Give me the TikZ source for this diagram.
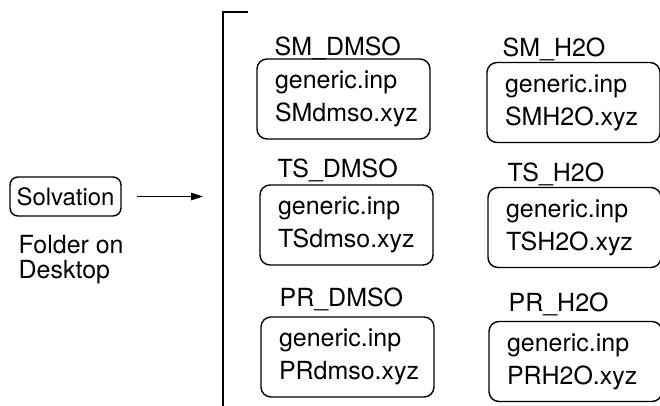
\documentclass[tikz,border=0pt]{standalone}
\usepackage{fontspec}
\setmainfont{TeX Gyre Heros}
\usepackage{tikz}
\usetikzlibrary{arrows.meta, positioning}

\begin{document}
\begin{tikzpicture}[
  font=\fontsize{14.2}{18.7}\selectfont,
  line width=0.8pt,
  folder/.style={draw, rounded corners=0.2cm, minimum width=3.46cm,
    minimum height=1.6cm, text width=2.74cm, inner xsep=0.36cm, align=left},
  dirname/.style={anchor=base west, inner sep=0pt}
]
  \useasboundingbox (0,0) rectangle (13.2,8.12);

  \node[draw, rounded corners=0.16cm, minimum width=2.22cm, minimum height=0.78cm,
    font=\fontsize{13.6}{16}\selectfont] (solv) at (1.31,4.19) {Solvation};
  \node[dirname] (desk1) at (0.36,3.054) {Folder on};
  \node[dirname] (desk2) at (0.36,2.554) {Desktop};
  \coordinate (arrtip) at (4.06,4.19);
  \draw[-{Triangle[length=0.24cm,width=0.15cm]}] ([xshift=0.3cm]solv.east) -- (arrtip);

  \draw (4.96,7.88) -- (4.46,7.88) -- (4.46,0);

  \node[dirname] (smdmsolbl) at (5.48,7.014) {SM\_DMSO};
  \node[folder] (smdmso) at (6.87,6.14) {generic.inp\\SMdmso.xyz};
  \node[dirname] (smh2olbl) at (10.04,6.994) {SM\_H2O};
  \node[folder] (smh2o) at (11.47,6.07) {generic.inp\\SMH2O.xyz};

  \node[dirname] (tsdmsolbl) at (5.54,4.574) {TS\_DMSO};
  \node[folder] (tsdmso) at (6.93,3.62) {generic.inp\\TSdmso.xyz};
  \node[dirname] (tsh2olbl) at (10.14,4.494) {TS\_H2O};
  \node[folder] (tsh2o) at (11.49,3.57) {generic.inp\\TSH2O.xyz};

  \node[dirname] (prdmsolbl) at (5.58,1.994) {PR\_DMSO};
  \node[folder] (prdmso) at (6.95,0.98) {generic.inp\\PRdmso.xyz};
  \node[dirname] (prh2olbl) at (10.16,1.894) {PR\_H2O};
  \node[folder] (prh2o) at (11.51,0.89) {generic.inp\\PRH2O.xyz};
\end{tikzpicture}
\end{document}
